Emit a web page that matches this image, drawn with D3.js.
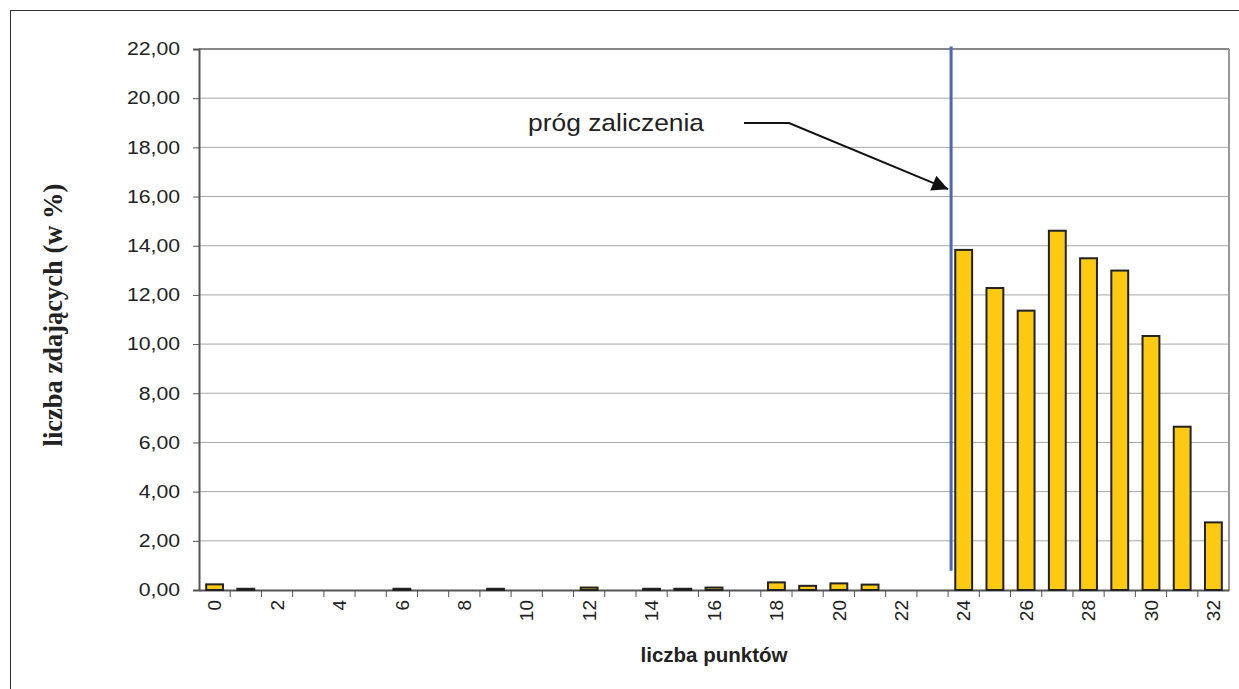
<!DOCTYPE html>
<html>
<head>
<meta charset="utf-8">
<script src="https://cdn.jsdelivr.net/npm/d3@7"></script>
<style>
  body { margin: 0; background: #fff; }
  text { font-family: Arial, "Liberation Sans", sans-serif; fill: #222; }
</style>
</head>
<body>
<svg id="chart" width="1239" height="689"></svg>
<script>
// Points (categories) and share of candidates in %
var points = d3.range(0, 33).map(String);
var percent = [0.23, 0.05, 0, 0, 0, 0, 0.05, 0, 0, 0.05, 0, 0, 0.10, 0, 0.05, 0.05, 0.10, 0,
               0.31, 0.17, 0.27, 0.22, 0, 0,
               13.83, 12.28, 11.36, 14.61, 13.49, 12.99, 10.33, 6.64, 2.75];
var yTicks = [0, 2, 4, 6, 8, 10, 12, 14, 16, 18, 20, 22];
var xTickLabels = points.filter(function(d) { return +d % 2 === 0; });
var threshold = "24";
var thresholdLabel = "próg zaliczenia";

var svg = d3.select("#chart");

// Outer frame
svg.append("rect")
  .attr("x", 10.5).attr("y", 10.5)
  .attr("width", 1240).attr("height", 700)
  .style("fill", "none").style("stroke", "#333").style("stroke-width", 1);

var m = { left: 199, right: 1229, top: 49, bottom: 590 };

var x = d3.scaleBand()
  .domain(points)
  .range([m.left, m.right])
  .paddingInner(0.46)
  .paddingOuter(0.23);

var y = d3.scaleLinear()
  .domain([0, 22])
  .range([m.bottom, m.top]);

// Gridlines
svg.append("g")
  .selectAll("line")
  .data(yTicks.filter(function(d) { return d > 0; }))
  .enter().append("line")
    .attr("x1", m.left).attr("x2", m.right)
    .attr("y1", function(d) { return y(d); })
    .attr("y2", function(d) { return y(d); })
    .style("stroke", function(d) { return d === 22 ? "#888" : "#a8a8a8"; })
    .style("stroke-width", function(d) { return d === 22 ? 2 : 1; });

// Right border of plot
svg.append("line")
  .attr("x1", m.right).attr("x2", m.right)
  .attr("y1", m.top).attr("y2", m.bottom)
  .style("stroke", "#999").style("stroke-width", 2);

// Y axis
var yAxis = d3.axisLeft(y)
  .tickValues(yTicks)
  .tickSize(6)
  .tickPadding(12)
  .tickFormat(function(d) { return d3.format(".2f")(d).replace(".", ","); });

var gy = svg.append("g")
  .attr("transform", "translate(" + m.left + ",0)")
  .call(yAxis);
gy.select(".domain").style("stroke", "#555").style("stroke-width", 2);
gy.selectAll(".tick line").style("stroke", "#555");
gy.selectAll("text")
  .attr("x", 0)
  .attr("transform", "translate(-19,0) scale(1.18,1)")
  .style("font-size", "18px").style("fill", "#222");

// X axis
var xAxis = d3.axisBottom(x).tickSize(0).tickFormat(function(d) { return d; });
var gx = svg.append("g")
  .attr("transform", "translate(0," + m.bottom + ")")
  .call(xAxis);
gx.select(".domain").style("stroke", "#555").style("stroke-width", 2);
gx.selectAll(".tick text")
  .style("display", function(d) { return xTickLabels.indexOf(d) >= 0 ? null : "none"; })
  .attr("transform", "rotate(-90)")
  .attr("x", -10).attr("y", 0).attr("dy", "0.35em")
  .style("text-anchor", "end")
  .style("font-size", "19px").style("fill", "#222");

// X ticks on band boundaries
var step = x.step();
svg.append("g")
  .selectAll("line")
  .data(points)
  .enter().append("line")
    .attr("x1", function(d) { return x(d) - x.paddingInner() * step / 2; })
    .attr("x2", function(d) { return x(d) - x.paddingInner() * step / 2; })
    .attr("y1", m.bottom).attr("y2", m.bottom + 7)
    .style("stroke", "#555").style("stroke-width", 1)
    .style("display", function(d, i) { return i === 0 ? "none" : null; });

// Bars
svg.append("g")
  .selectAll("rect")
  .data(percent)
  .enter().append("rect")
    .attr("x", function(d, i) { return x(points[i]); })
    .attr("y", function(d) { return y(d); })
    .attr("width", x.bandwidth())
    .attr("height", function(d) { return y(0) - y(d); })
    .style("fill", "#fdca11")
    .style("stroke", "#222")
    .style("stroke-width", 2)
    .style("display", function(d) { return d > 0 ? null : "none"; });

// Threshold line
var tx = x(threshold) - x.paddingInner() * step / 2 + 3;
svg.append("line")
  .attr("x1", tx).attr("x2", tx)
  .attr("y1", y(22.1)).attr("y2", y(0.78))
  .style("stroke", "#4a68b4").style("stroke-width", 3);

// Annotation arrow
svg.append("defs").append("marker")
  .attr("id", "arrow")
  .attr("viewBox", "0 0 10 10")
  .attr("refX", 10).attr("refY", 5)
  .attr("markerWidth", 28).attr("markerHeight", 16)
  .attr("markerUnits", "userSpaceOnUse")
  .attr("orient", "auto")
  .append("path")
    .attr("d", "M0,0 L10,5 L0,10 z")
    .style("fill", "#111");

var ax = tx - 3;
svg.append("path")
  .attr("d", "M744,123 L789,123 L" + ax + "," + y(16.3))
  .style("fill", "none").style("stroke", "#111").style("stroke-width", 2)
  .attr("marker-end", "url(#arrow)");

svg.append("text")
  .attr("transform", "translate(528,131) scale(1.1,1)")
  .style("font-size", "24px")
  .text(thresholdLabel);

// Axis titles
svg.append("text")
  .attr("transform", "translate(62,315) rotate(-90)")
  .style("text-anchor", "middle")
  .style("font-family", "'Times New Roman', 'Liberation Serif', serif")
  .style("font-weight", "bold")
  .style("font-size", "26.5px")
  .text("liczba zdających (w %)");

svg.append("text")
  .attr("x", 714).attr("y", 662)
  .style("text-anchor", "middle")
  .style("font-weight", "bold")
  .style("font-size", "20.5px")
  .text("liczba punktów");
</script>
</body>
</html>
